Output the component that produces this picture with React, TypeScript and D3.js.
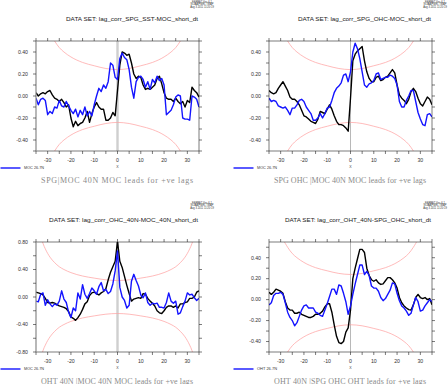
import React from 'react';
import * as d3 from 'd3';

// lag axis (years), one value per integer lag
const lags = d3.range(-35, 36);

// panel 1: SPG SST vs MOC
const sstBlack = [0.03, 0.00, 0.02, 0.03, 0.02, 0.04, 0.05, 0.01, -0.02, -0.03, -0.05, -0.03, -0.06, -0.10, -0.08, -0.20, -0.28, -0.23, -0.27, -0.25, -0.24, -0.20, -0.14, -0.24, -0.16, -0.10, -0.06, -0.10, -0.12, -0.12, -0.22, -0.22, -0.20, -0.15, -0.18, 0.05, 0.28, 0.40, 0.39, 0.37, 0.38, 0.30, 0.20, 0.16, 0.18, 0.17, 0.10, 0.06, 0.07, 0.06, 0.08, 0.10, 0.16, 0.18, 0.11, 0.03, -0.02, -0.03, -0.03, -0.05, -0.02, -0.05, -0.07, -0.05, -0.10, -0.04, -0.06, 0.08, 0.05, 0.03, -0.01];
const sstBlue = [-0.02, -0.08, -0.03, -0.02, -0.04, -0.17, -0.14, -0.16, -0.10, -0.11, -0.04, -0.09, -0.10, -0.05, -0.09, -0.13, -0.16, -0.12, -0.19, -0.13, -0.17, -0.10, -0.18, -0.14, -0.18, -0.08, 0.00, 0.07, 0.04, 0.10, 0.07, 0.13, 0.30, 0.28, 0.17, 0.15, 0.34, 0.39, 0.35, 0.33, 0.24, 0.08, -0.02, 0.13, 0.17, 0.18, 0.15, 0.08, 0.13, 0.06, 0.15, 0.12, 0.18, 0.14, 0.16, 0.10, -0.17, -0.15, -0.13, -0.08, -0.01, 0.01, 0.00, -0.20, -0.21, -0.21, -0.22, 0.00, -0.01, -0.03, -0.10];

// panel 2: SPG OHC vs MOC
const ohcBlack = [0.05, 0.03, 0.02, 0.03, 0.07, 0.10, 0.13, 0.09, 0.05, -0.01, -0.03, -0.03, -0.05, -0.08, -0.13, -0.18, -0.19, -0.21, -0.23, -0.24, -0.25, -0.21, -0.14, -0.15, -0.16, -0.12, -0.08, -0.12, -0.18, -0.23, -0.26, -0.26, -0.27, -0.29, -0.32, -0.02, 0.32, 0.38, 0.41, 0.43, 0.45, 0.32, 0.22, 0.16, 0.13, 0.13, 0.17, 0.18, 0.14, 0.15, 0.17, 0.18, 0.21, 0.24, 0.21, 0.10, 0.01, -0.02, -0.04, -0.07, -0.03, 0.04, 0.07, 0.04, -0.02, -0.07, -0.09, -0.05, -0.01, -0.03, -0.08];
const ohcBlue = [-0.02, -0.05, -0.04, -0.05, -0.09, -0.10, -0.11, -0.10, -0.13, -0.17, -0.11, -0.11, -0.08, -0.04, -0.03, -0.05, -0.10, -0.13, -0.16, -0.22, -0.22, -0.20, -0.16, -0.20, -0.16, -0.11, -0.10, -0.04, 0.03, 0.07, 0.09, 0.12, 0.19, 0.20, 0.13, 0.22, 0.40, 0.48, 0.43, 0.34, 0.22, 0.10, 0.08, 0.11, 0.12, 0.14, 0.20, 0.21, 0.15, 0.16, 0.17, 0.17, 0.19, 0.18, 0.16, 0.10, -0.05, -0.10, -0.10, -0.04, 0.00, 0.05, 0.05, -0.05, -0.15, -0.21, -0.26, -0.27, -0.17, -0.16, -0.19];

// panel 3: OHT 40N vs MOC 40N
const oht40Black = [0.07, 0.06, 0.05, 0.03, -0.02, -0.08, -0.09, -0.08, -0.09, -0.11, -0.13, -0.14, -0.15, -0.17, -0.21, -0.29, -0.31, -0.34, -0.30, -0.25, -0.18, -0.10, -0.07, 0.02, 0.06, 0.07, 0.05, 0.03, 0.06, 0.08, 0.12, 0.25, 0.36, 0.44, 0.52, 0.81, 0.52, 0.43, 0.30, 0.17, 0.05, -0.06, -0.03, -0.02, -0.01, -0.02, 0.05, 0.04, -0.02, -0.06, -0.09, -0.13, -0.20, -0.23, -0.24, -0.20, -0.15, -0.13, -0.13, -0.15, -0.13, -0.16, -0.10, -0.10, -0.08, -0.07, -0.02, -0.02, 0.00, 0.07, 0.09];
const oht40Blue = [-0.06, -0.07, 0.04, 0.06, -0.12, -0.04, -0.10, -0.14, -0.10, -0.12, -0.06, 0.09, -0.03, -0.08, -0.22, -0.30, -0.16, -0.20, 0.06, -0.03, 0.18, 0.04, -0.02, 0.05, 0.13, 0.09, 0.04, 0.15, 0.21, 0.09, 0.11, 0.05, 0.08, 0.19, 0.38, 0.67, 0.14, 0.00, -0.05, -0.16, -0.12, 0.23, 0.33, 0.24, 0.16, 0.03, -0.01, 0.06, -0.08, -0.12, -0.09, -0.10, -0.09, -0.15, -0.15, -0.16, -0.08, 0.06, -0.06, -0.09, -0.06, -0.25, -0.23, -0.14, -0.06, 0.06, 0.03, 0.04, -0.01, -0.05, -0.02];

// panel 4: OHT 40N vs SPG OHC
const ohtSpgBlack = [0.07, 0.05, 0.07, 0.10, 0.09, 0.08, 0.06, -0.02, -0.08, -0.10, -0.10, -0.13, -0.13, -0.12, -0.14, -0.15, -0.16, -0.17, -0.17, -0.16, -0.14, -0.14, -0.13, -0.11, -0.07, -0.04, -0.04, -0.12, -0.24, -0.35, -0.41, -0.42, -0.40, -0.31, -0.27, -0.10, 0.20, 0.30, 0.39, 0.48, 0.48, 0.45, 0.30, 0.23, 0.19, 0.175, 0.19, 0.16, 0.145, 0.15, 0.18, 0.21, 0.21, 0.19, 0.16, 0.11, 0.02, -0.03, -0.06, -0.08, -0.095, -0.10, -0.05, 0.02, 0.05, 0.02, 0.01, 0.02, 0.00, 0.01, -0.05];
const ohtSpgBlue = [-0.05, -0.03, 0.04, 0.06, 0.06, 0.07, 0.05, -0.03, -0.12, -0.17, -0.20, -0.25, -0.22, -0.16, -0.10, -0.06, -0.05, -0.08, -0.08, -0.08, -0.12, -0.13, -0.15, -0.16, -0.10, -0.04, 0.03, 0.10, 0.10, 0.05, 0.14, 0.13, 0.06, -0.02, -0.14, -0.06, 0.05, 0.15, 0.24, 0.33, 0.33, 0.24, 0.27, 0.23, 0.13, 0.11, 0.11, 0.08, 0.02, -0.01, 0.01, 0.05, 0.09, 0.16, 0.15, 0.06, -0.01, -0.06, -0.08, -0.11, -0.15, -0.13, -0.05, 0.02, -0.02, -0.11, -0.10, -0.06, -0.03, 0.00, -0.02];

// significance bound (symmetric in lag)
const boundLags = [0, 5, 10, 15, 20, 23, 25, 27, 29, 31, 32, 33, 34, 35];
const boundVals = [0.24, 0.25, 0.275, 0.305, 0.355, 0.4, 0.44, 0.5, 0.58, 0.7, 0.78, 0.9, 1.05, 1.3];

const dataSets = [
  'DATA SET: lag_corr_SPG_SST-MOC_short_dt',
  'DATA SET: lag_corr_SPG_OHC-MOC_short_dt',
  'DATA SET: lag_corr_OHC_40N-MOC_40N_short_dt',
  'DATA SET: lag_corr_OHT_40N-SPG_OHC_short_dt',
];
const dataSetWidths = [132, 133, 149, 146];
const titles = [
  'SPG|MOC 40N MOC leads for +ve lags',
  'SPG OHC |MOC 40N MOC leads for +ve lags',
  'OHT 40N |MOC 40N MOC leads for +ve lags',
  'OHT 40N |SPG OHC OHT leads for +ve lags',
];
const legendNames = ['MOC 26.7N', 'MOC 26.7N', 'MOC 26.7N', 'OHT 26.7N'];
const yDomains: [number, number][] = [[-0.5, 0.5], [-0.5, 0.5], [-0.8, 0.8], [-0.5, 0.55]];
const yLabelTicks = [
  [-0.4, -0.2, 0, 0.2, 0.4],
  [-0.4, -0.2, 0, 0.2, 0.4],
  [-0.8, -0.4, 0, 0.4, 0.8],
  [-0.4, -0.2, 0, 0.2, 0.4],
];
const yMinorStep = [0.1, 0.1, 0.2, 0.1];
const xLabelTicks = [-30, -20, -10, 0, 10, 20, 30];
const headerLines = ['FERRET Ver. 6.1', 'NOAA/PMEL TMAP', 'Aug 3 2011 11:20:19'];
const blackSeries = [sstBlack, ohcBlack, oht40Black, ohtSpgBlack];
const blueSeries = [sstBlue, ohcBlue, oht40Blue, ohtSpgBlue];

const offsets = [[0, 0], [233, 0], [0, 201], [233, 201]];
const plot = { left: 36, right: 199, top: 41, bottom: 151 };
const sans = 'Liberation Sans, Arial, sans-serif';
const fmtY = (v: number) => d3.format('.2f')(v).replace('\u2212', '-');
const fmtX = (v: number) => d3.format('d')(v).replace('\u2212', '-');

function Panel({ i }: { i: number }) {
  const [dx, dy] = offsets[i];
  const x = d3.scaleLinear().domain([-35, 35]).range([plot.left, plot.right]);
  const y = d3.scaleLinear().domain(yDomains[i]).range([plot.bottom, plot.top]);
  const line = d3.line<number>().x((_, j) => x(lags[j])).y(d => y(d));

  const bPts: [number, number][] = [
    ...boundLags.slice().reverse().map((l, k) => [-l, boundVals[boundLags.length - 1 - k]] as [number, number]),
    ...boundLags.slice(1).map((l, k) => [l, boundVals[k + 1]] as [number, number]),
  ];
  const bLine = d3.line<[number, number]>().x(d => x(d[0])).y(d => y(d[1])).curve(d3.curveMonotoneX);
  const bLow = d3.line<[number, number]>().x(d => x(d[0])).y(d => y(-d[1])).curve(d3.curveMonotoneX);

  const [y0, y1] = yDomains[i];
  const step = yMinorStep[i];
  const yMinor = d3.range(Math.ceil(y0 / step - 1e-6), Math.floor(y1 / step + 1e-6) + 1).map(k => k * step);
  const xMinor = d3.range(-35, 36, 5);
  const thickZero = i === 0 || i === 2;
  const clipId = `clip${i}`;

  return (
    <g transform={`translate(${dx},${dy})`}>
      <clipPath id={clipId}>
        <rect x={plot.left} y={plot.top} width={plot.right - plot.left} height={plot.bottom - plot.top} />
      </clipPath>
      {headerLines.map((t, k) => (
        <text key={k} x={202} y={2.6 + k * 2.6} fontSize={2.6} textAnchor="middle" fontFamily={sans} fill="#333">{t}</text>
      ))}
      <text x={198 - dataSetWidths[i]} y={21} fontSize={5.4} fontFamily={sans} fill="#222"
        textLength={dataSetWidths[i]} lengthAdjust="spacingAndGlyphs">{dataSets[i]}</text>

      <line x1={x(0)} x2={x(0)} y1={plot.top} y2={plot.bottom}
        stroke={thickZero ? '#cfcfcf' : '#9a9a9a'} strokeWidth={thickZero ? 2.4 : 0.7} />

      <g clipPath={`url(#${clipId})`} fill="none" stroke="#ff9d9d" strokeWidth={0.7}>
        <path d={bLine(bPts) || ''} />
        <path d={bLow(bPts) || ''} />
      </g>

      <g clipPath={`url(#${clipId})`} fill="none" strokeLinejoin="round">
        <path d={line(blackSeries[i]) || ''} stroke="#000" strokeWidth={1.4} />
        <path d={line(blueSeries[i]) || ''} stroke="#1414ff" strokeWidth={1.4} />
      </g>

      {/* frame */}
      <g stroke="#222" strokeWidth={0.6}>
        <line x1={plot.left} x2={plot.right} y1={plot.top} y2={plot.top} />
        <line x1={plot.left} x2={plot.right} y1={plot.bottom} y2={plot.bottom} />
        <line x1={plot.right} x2={plot.right} y1={plot.top} y2={plot.bottom} />
        <line x1={plot.left} x2={plot.left} y1={plot.top} y2={plot.bottom}
          stroke={thickZero ? '#888' : '#222'} strokeWidth={thickZero ? 1.2 : 0.6} />
        {xMinor.map(v => (
          <g key={`x${v}`}>
            <line x1={x(v)} x2={x(v)} y1={plot.top} y2={plot.top - 3} />
            <line x1={x(v)} x2={x(v)} y1={plot.bottom} y2={plot.bottom + 3} />
          </g>
        ))}
        {yMinor.map(v => (
          <g key={`y${v}`}>
            <line x1={plot.left} x2={plot.left - 3} y1={y(v)} y2={y(v)} />
            <line x1={plot.right} x2={plot.right + 3} y1={y(v)} y2={y(v)} />
          </g>
        ))}
      </g>

      {yLabelTicks[i].map(v => (
        <text key={`yl${v}`} x={28} y={y(v) + 1.8} fontSize={5.2} textAnchor="end" fontFamily={sans} fill="#333">{fmtY(v)}</text>
      ))}
      {xLabelTicks.map(v => (
        <text key={`xl${v}`} x={x(v)} y={162} fontSize={5.2} textAnchor="middle" fontFamily={sans} fill="#333">{fmtX(v)}</text>
      ))}
      <text x={x(0)} y={168} fontSize={3.6} textAnchor="middle" fontFamily={sans} fill="#444">X</text>

      <line x1={0.5} x2={20.5} y1={168} y2={168} stroke="#1414ff" strokeWidth={1.4} />
      <text x={24} y={169.2} fontSize={3.4} fontFamily={sans} fill="#333" textLength={20} lengthAdjust="spacingAndGlyphs">{legendNames[i]}</text>

      <text x={41} y={182.5} fontSize={8} fontFamily="Liberation Serif, DejaVu Serif, serif" fill="#8a8a8a"
        textLength={152} lengthAdjust="spacing">{titles[i]}</text>
    </g>
  );
}

export default function App() {
  return (
    <svg width={448} height={384} style={{ position: 'absolute', left: 0, top: 0, background: '#fff' }}>
      <rect width={448} height={384} fill="#fff" />
      {[0, 1, 2, 3].map(i => <Panel key={i} i={i} />)}
    </svg>
  );
}
